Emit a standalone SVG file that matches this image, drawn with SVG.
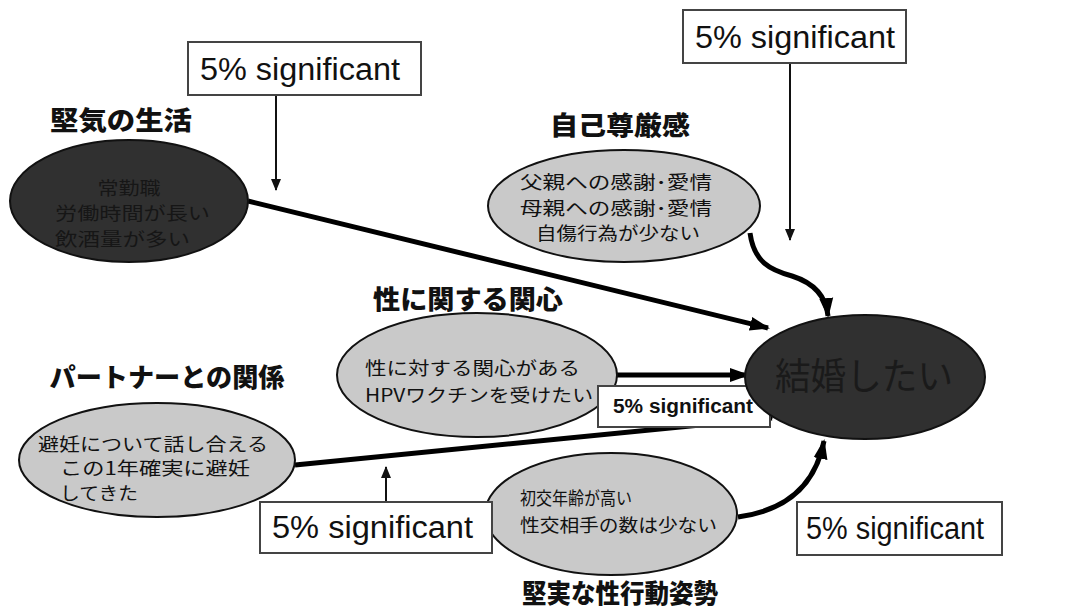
<svg xmlns="http://www.w3.org/2000/svg" width="1067" height="611" viewBox="0 0 1067 611">
<style>
.jp{font-family:"Noto Sans CJK JP","Noto Sans CJK SC",sans-serif;}
.title{font-family:"Noto Sans CJK JP",sans-serif;font-weight:900;font-size:26px;fill:#111;}
.body{font-family:"Noto Sans CJK JP",sans-serif;font-size:18px;fill:#111;}
.dtext{font-family:"Noto Sans CJK JP",sans-serif;font-size:18px;fill:#161616;}
.light{fill:#c9c9c9;stroke:#111;stroke-width:2;}
.dark{fill:#303030;stroke:#111;stroke-width:2;}
.box{fill:#fff;stroke:#444;stroke-width:2;}
.sig{font-family:"Liberation Sans",Arial,sans-serif;font-size:31px;fill:#111;}
.sigb{font-family:"Liberation Sans",Arial,sans-serif;font-size:20px;font-weight:bold;fill:#111;}
.thick{fill:none;stroke:#000;stroke-width:5;marker-end:url(#big);}
.thin{fill:none;stroke:#111;stroke-width:2;marker-end:url(#small);}
</style>
<defs>
<marker id="big" markerUnits="userSpaceOnUse" markerWidth="20" markerHeight="16" refX="18" refY="8" orient="auto">
<path d="M0,1 L20,8 L0,15 Z" fill="#000"/>
</marker>
<marker id="small" markerUnits="userSpaceOnUse" markerWidth="12" markerHeight="12" refX="11" refY="6" orient="auto">
<path d="M0,1 L12,6 L0,11 Z" fill="#111"/>
</marker>
</defs>
<rect width="1067" height="611" fill="#fff"/>

<g id="connectors">
<line class="thick" x1="248" y1="201" x2="768" y2="328"/>
<path class="thick" d="M750,233 C754,262 770,270 792,276 C814,283 826,296 828,316"/>
<line class="thick" x1="617" y1="375" x2="748" y2="375"/>
<line class="thick" x1="295" y1="465" x2="772" y2="418"/>
<path class="thick" d="M738,517 C790,510 816,482 824,441"/>
<line class="thin" x1="276" y1="96" x2="276" y2="190"/>
<line class="thin" x1="790" y1="63" x2="790" y2="240"/>
<line class="thin" x1="386" y1="502" x2="386" y2="467"/>
</g>

<g id="lifestyle">
<text class="title" x="121" y="130" text-anchor="middle" textLength="142" lengthAdjust="spacingAndGlyphs">堅気の生活</text>
<ellipse class="dark" cx="129" cy="201" rx="119" ry="61"/>
<text class="dtext" x="129" y="195" text-anchor="middle" textLength="63" lengthAdjust="spacingAndGlyphs">常勤職</text>
<text class="dtext" x="55" y="220" textLength="155" lengthAdjust="spacingAndGlyphs">労働時間が長い</text>
<text class="dtext" x="55" y="246" textLength="135" lengthAdjust="spacingAndGlyphs">飲酒量が多い</text>
</g>

<g id="selfesteem">
<text class="title" x="620" y="135" text-anchor="middle" textLength="140" lengthAdjust="spacingAndGlyphs">自己尊厳感</text>
<ellipse class="light" cx="624" cy="206" rx="136" ry="56"/>
<text class="body" x="520" y="189" textLength="192" lengthAdjust="spacingAndGlyphs">父親への感謝･愛情</text>
<text class="body" x="520" y="215" textLength="192" lengthAdjust="spacingAndGlyphs">母親への感謝･愛情</text>
<text class="body" x="536" y="240" textLength="164" lengthAdjust="spacingAndGlyphs">自傷行為が少ない</text>
</g>

<g id="interest">
<text class="title" x="468" y="309" text-anchor="middle" textLength="190" lengthAdjust="spacingAndGlyphs">性に関する関心</text>
<ellipse class="light" cx="477" cy="375" rx="140" ry="62"/>
<text class="body" x="365" y="375" textLength="215" lengthAdjust="spacingAndGlyphs">性に対する関心がある</text>
<text class="body" x="365" y="402" textLength="228" lengthAdjust="spacingAndGlyphs">HPVワクチンを受けたい</text>
</g>

<g id="sig-small">
<rect class="box" x="598" y="386" width="172" height="41"/>
<text class="sigb" x="613" y="413" textLength="140" lengthAdjust="spacingAndGlyphs">5% significant</text>
</g>

<g id="partner">
<text class="title" x="167" y="387" text-anchor="middle" textLength="235" lengthAdjust="spacingAndGlyphs">パートナーとの関係</text>
<ellipse class="light" cx="157" cy="460" rx="138" ry="57"/>
<text class="body" x="38" y="451" textLength="230" lengthAdjust="spacingAndGlyphs">避妊について話し合える</text>
<text class="body" x="60" y="475" textLength="190" lengthAdjust="spacingAndGlyphs">この1年確実に避妊</text>
<text class="body" x="60" y="500" textLength="78" lengthAdjust="spacingAndGlyphs">してきた</text>
</g>

<g id="behavior">
<ellipse class="light" cx="611" cy="514" rx="126" ry="61"/>
<text class="body" x="520" y="505" textLength="112" lengthAdjust="spacingAndGlyphs">初交年齢が高い</text>
<text class="body" x="520" y="532" textLength="197" lengthAdjust="spacingAndGlyphs">性交相手の数は少ない</text>
<text class="title" x="620" y="603" text-anchor="middle" font-size="24" textLength="196" lengthAdjust="spacingAndGlyphs">堅実な性行動姿勢</text>
</g>

<g id="marriage">
<ellipse class="dark" cx="865" cy="377" rx="120" ry="62"/>
<text class="jp" x="864" y="390" text-anchor="middle" font-size="37" fill="#1a1a1a" textLength="178" lengthAdjust="spacingAndGlyphs">結婚したい</text>
</g>

<g id="sig-top-left">
<rect class="box" x="188" y="42" width="233" height="53"/>
<text class="sig" x="200" y="80" textLength="200" lengthAdjust="spacingAndGlyphs">5% significant</text>
</g>

<g id="sig-top-right">
<rect class="box" x="683" y="10" width="223" height="53"/>
<text class="sig" x="695" y="48" textLength="200" lengthAdjust="spacingAndGlyphs">5% significant</text>
</g>

<g id="sig-bottom-left">
<rect class="box" x="260" y="502" width="232" height="51"/>
<text class="sig" x="272" y="538" textLength="201" lengthAdjust="spacingAndGlyphs">5% significant</text>
</g>

<g id="sig-bottom-right">
<rect class="box" x="797" y="502" width="205" height="53"/>
<text class="sig" x="806" y="539" textLength="178" lengthAdjust="spacingAndGlyphs">5% significant</text>
</g>
</svg>
